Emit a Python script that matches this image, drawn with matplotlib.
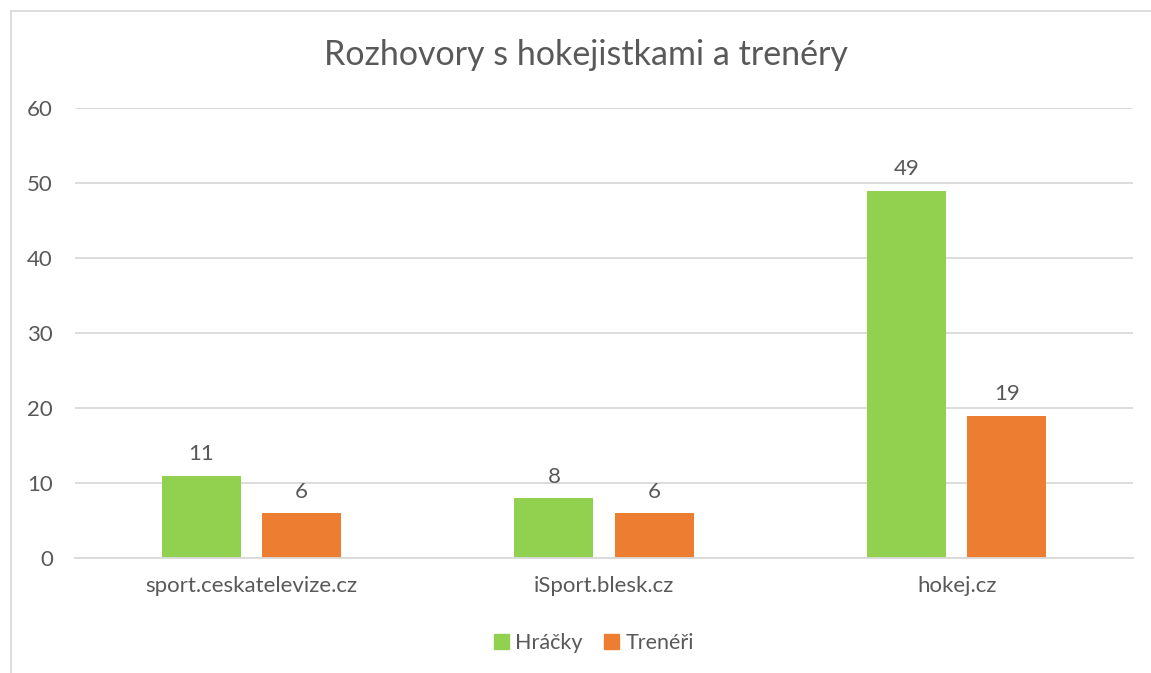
import numpy as np
import matplotlib
matplotlib.use('Agg')
import matplotlib.pyplot as plt
from matplotlib.patches import Patch
from matplotlib.lines import Line2D

categories = ['sport.ceskatelevize.cz', 'iSport.blesk.cz', 'hokej.cz']
hracky = [11, 8, 49]
treneri = [6, 6, 19]
series_names = ['Hráčky', 'Trenéři']
yticks = [0, 10, 20, 30, 40, 50, 60]

GREEN = '#92D050'
ORANGE = '#ED7D31'
TXT = '#595959'
GRID = '#D9D9D9'

plt.rcParams['font.family'] = ['Lato', 'DejaVu Sans']

W, H = 1151, 673
fig = plt.figure(figsize=(W / 100, H / 100), dpi=100)
ax = fig.add_axes([75 / W, 1 - 558 / H, (1133 - 75) / W, (558 - 108) / H])

x = np.arange(len(categories))
bw, off = 0.224, 0.142
b1 = ax.bar(x - off, hracky, bw, color=GREEN)
b2 = ax.bar(x + off, treneri, bw, color=ORANGE)
for bars in (b1, b2):
    for r in bars:
        ax.annotate(f'{r.get_height():g}', (r.get_x() + r.get_width() / 2, r.get_height()),
                    xytext=(0, 8), textcoords='offset points', ha='center', va='bottom',
                    fontsize=16, color=TXT)

ax.set_xlim(-0.5, len(categories) - 0.5)
ax.set_ylim(0, 60)
ax.set_yticks(yticks)
ax.set_xticks(x, categories)
ax.grid(axis='y', color=GRID, lw=1.3)
ax.set_axisbelow(True)
for s in ['top', 'right', 'left']:
    ax.spines[s].set_visible(False)
ax.spines['bottom'].set_color(GRID)
ax.spines['bottom'].set_linewidth(1.3)
ax.tick_params(axis='both', length=0, labelsize=16, labelcolor=TXT)
ax.tick_params(axis='y', pad=16)
ax.tick_params(axis='x', pad=13)

fig.text(586 / W, 1 - 55 / H, 'Rozhovory s hokejistkami a trenéry', ha='center', va='center',
         fontsize=24.5, color=TXT)

handles = [Patch(color=GREEN), Patch(color=ORANGE)]
fig.legend(handles, series_names, loc='center', bbox_to_anchor=(594 / W, 1 - 643 / H), ncol=2,
           frameon=False, fontsize=15.5, labelcolor=TXT, handlelength=0.7, handleheight=0.7,
           handletextpad=0.3, columnspacing=1.0)

# chart-area border (only left and top edges visible in the crop)
fig.add_artist(Line2D([10.5 / W, 10.5 / W], [0, 1 - 10.5 / H], color=GRID, lw=1.3))
fig.add_artist(Line2D([10.5 / W, 1], [1 - 10.5 / H, 1 - 10.5 / H], color=GRID, lw=1.3))

fig.savefig('out.png', dpi=100)
